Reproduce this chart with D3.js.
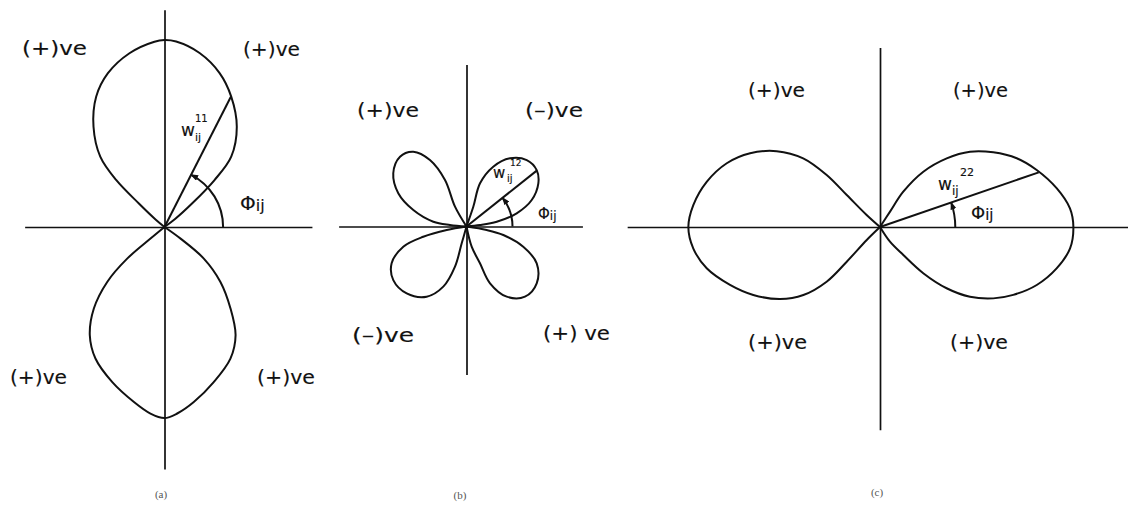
<!DOCTYPE html>
<html>
<head>
<meta charset="utf-8">
<script src="https://cdn.jsdelivr.net/npm/d3@7"></script>
<style>
  html, body { margin: 0; padding: 0; background: #ffffff; }
  svg { display: block; }
  .curve { fill: none; stroke: #111; stroke-width: 2; stroke-linejoin: round; }
  .axis path.domain { stroke: #111; stroke-width: 1.7; }
  .lbl { font-family: "DejaVu Sans", sans-serif; fill: #111; stroke: #111; stroke-width: 0.15; }
  .cap { font-family: "Liberation Serif", "DejaVu Serif", serif; fill: #555; font-size: 11px; }
</style>
</head>
<body>
<svg id="chart" width="1128" height="506"></svg>
<script>
// Lobe outlines: [angle in degrees counter-clockwise from +x, radius relative to the lobe length]

// (a) weight w_ij^11 — vertical figure-eight
const lobeAUpper = [[37,0.07],[40.5,0.195],[43.2,0.363],[46.5,0.513],[54.2,0.654],[62.9,0.775],
  [70.3,0.865],[78.6,0.939],[86.4,0.983],[90,0.989],[93.1,0.982],[101.4,0.938],[110.2,0.867],
  [117.7,0.778],[125.3,0.650],[132.4,0.504],[135.8,0.357],[137.5,0.182],[140,0.06]];
const lobeALower = [[-35.9,0.105],[-38.8,0.267],[-44.5,0.415],[-51.0,0.555],[-56.7,0.685],[-63.4,0.779],
  [-72.4,0.861],[-80.5,0.939],[-86.1,0.989],[-90,1.011],[-94.3,0.990],[-99.9,0.940],[-108.6,0.866],
  [-117.7,0.786],[-124.6,0.696],[-130.9,0.571],[-136.2,0.420],[-139.7,0.259],[-140.4,0.096]];

// (b) weight w_ij^12 — four-leaf
const lobeBUpperRight = [[71.0,0.227],[72.6,0.492],[65.9,0.712],[57.5,0.879],[47.8,0.975],[38.8,0.979],
  [31.0,0.911],[22.1,0.765],[14.7,0.564],[9.0,0.333],[6.3,0.148]];
const lobeBUpperLeft = [[120.1,0.249],[114.8,0.557],[118.8,0.825],[125.4,0.998],[133.6,1.048],[144.0,0.984],
  [154.0,0.825],[162.8,0.605],[171.8,0.364],[174.8,0.180]];
const lobeBLowerLeft = [[190.0,0.218],[193.3,0.483],[197.7,0.721],[206.2,0.907],[216.2,0.986],[228.2,0.975],
  [240.4,0.877],[248.9,0.701],[254.0,0.454],[254.1,0.190]];
const lobeBLowerRight = [[284.4,0.226],[290.1,0.426],[292.5,0.668],[299.8,0.879],[309.8,0.993],[321.0,0.982],
  [332.3,0.862],[340.4,0.655],[347.0,0.411],[350.2,0.223]];

// (c) weight w_ij^22 — horizontal figure-eight
const lobeCRight = [[56.8,0.095],[56.6,0.219],[51.9,0.364],[45.8,0.496],[39.9,0.608],[33.4,0.703],
  [26.7,0.793],[20.0,0.864],[12.4,0.937],[5.6,0.989],[0,1.002],[-6.4,0.991],[-13.2,0.940],[-20.3,0.866],
  [-27.0,0.775],[-32.2,0.694],[-37.8,0.590],[-42.6,0.469],[-46.9,0.328],[-50.2,0.189],[-55.8,0.092]];
const lobeCLeft = [[138.1,0.093],[136.1,0.239],[135.7,0.386],[138.2,0.534],[143.7,0.664],[150.4,0.774],
  [157.4,0.860],[165.4,0.928],[173.3,0.974],[180,0.993],[186.5,0.974],[193.4,0.923],[201.1,0.833],
  [208.2,0.745],[215.8,0.638],[221.6,0.531],[225.7,0.396],[226.2,0.249],[224.3,0.096]];

// Sample direction phi_ij for each panel: [angle in degrees, weight radius, angle-arc radius]
const radialA = [63, 0.775, 0.31];
const radialB = [38.5, 0.98, 0.5];
const radialC = [19, 0.87, 0.39];

// Quadrant sign labels: [top-left, top-right, bottom-left, bottom-right]
const signsA = ["(+)ve", "(+)ve", "(+)ve", "(+)ve"];
const signsB = ["(+)ve", "(–)ve", "(–)ve", "(+) ve"];
const signsC = ["(+)ve", "(+)ve", "(+)ve", "(+)ve"];
const captions = ["(a)", "(b)", "(c)"];
const weightSup = ["11", "12", "22"];

// Panel layout
const panels = [
  { cx: 164.5, cy: 227, R: 189, xExt: [-0.74, 0.78], yExt: [-1.28, 1.15],
    lobes: [lobeAUpper, lobeALower], radial: radialA, signs: signsA, cap: captions[0], sup: weightSup[0],
    signPos: [[22,55,65],[243,56,57],[10,384,57],[257,384,58]], capPos: [161,498],
    w: { x: 181, y: 136, fs: 17, supX: 195, supY: 122, supFs: 10, subX: 195, subY: 141, subFs: 11 },
    phi: { x: 240, y: 210, fs: 20, subFs: 16 } },
  { cx: 466.5, cy: 226.5, R: 92, xExt: [-1.39, 1.26], yExt: [-1.61, 1.76],
    lobes: [lobeBUpperRight, lobeBUpperLeft, lobeBLowerLeft, lobeBLowerRight], radial: radialB,
    signs: signsB, cap: captions[1], sup: weightSup[1],
    signPos: [[357,117,62],[525,117,58],[352,342,62],[543,340,67]], capPos: [460,499],
    w: { x: 493, y: 178, fs: 15, supX: 510, supY: 166, supFs: 9, subX: 507, subY: 182, subFs: 10 },
    phi: { x: 538, y: 219, fs: 15, subFs: 12 } },
  { cx: 880, cy: 227, R: 193, xExt: [-1.31, 1.29], yExt: [-1.05, 0.93],
    lobes: [lobeCRight, lobeCLeft], radial: radialC, signs: signsC, cap: captions[2], sup: weightSup[2],
    signPos: [[748,97,57],[953,97,55],[748,349,59],[950,349,58]], capPos: [877,496],
    w: { x: 938, y: 190, fs: 17, supX: 960, supY: 176, supFs: 11, subX: 952, subY: 195, subFs: 12 },
    phi: { x: 971, y: 219, fs: 18, subFs: 15 } }
];

const svg = d3.select("#chart");
svg.append("rect").attr("width", 1128).attr("height", 506).attr("fill", "#ffffff");

// Arrowhead for the phi arcs
svg.append("defs").append("marker")
  .attr("id", "arrow").attr("markerUnits", "userSpaceOnUse")
  .attr("viewBox", "0 0 8 6").attr("markerWidth", 8).attr("markerHeight", 6)
  .attr("refX", 7).attr("refY", 3).attr("orient", "auto")
  .append("path").attr("d", "M0,0 L8,3 L0,6 Z").attr("fill", "#111");

const deg = Math.PI / 180;

panels.forEach(p => {
  const x = d3.scaleLinear().domain(p.xExt).range([p.cx + p.xExt[0] * p.R, p.cx + p.xExt[1] * p.R]);
  const y = d3.scaleLinear().domain(p.yExt).range([p.cy - p.yExt[0] * p.R, p.cy - p.yExt[1] * p.R]);
  const r = d3.scaleLinear().domain([0, 1]).range([0, p.R]);

  // Axes through the origin
  svg.append("g").attr("class", "axis")
    .attr("transform", `translate(0,${y(0)})`)
    .call(d3.axisBottom(x).tickValues([]).tickSizeOuter(0));
  svg.append("g").attr("class", "axis")
    .attr("transform", `translate(${x(0)},0)`)
    .call(d3.axisLeft(y).tickValues([]).tickSizeOuter(0));

  const g = svg.append("g").attr("transform", `translate(${x(0)},${y(0)})`);

  const radial = d3.lineRadial()
    .angle(d => Math.PI / 2 - d[0] * deg)
    .radius(d => r(d[1]))
    .curve(d3.curveCatmullRom.alpha(0.5));

  // Each lobe leaves the origin and returns to it
  p.lobes.forEach(lobe => {
    const pts = [[lobe[0][0], 0], ...lobe, [lobe[lobe.length - 1][0], 0]];
    g.append("path").attr("class", "curve").attr("d", radial(pts));
  });

  // Radial weight line at phi
  const [phiDeg, wr, arcR] = p.radial;
  g.append("path").attr("class", "curve")
    .attr("d", d3.lineRadial().angle(d => Math.PI / 2 - d[0] * deg).radius(d => r(d[1]))([[phiDeg, 0], [phiDeg, wr]]));

  // Angle arc from the horizontal axis up to the weight line
  const arc = d3.path();
  arc.arc(0, 0, r(arcR), 0, -phiDeg * deg, true);
  g.append("path").attr("class", "curve").attr("stroke-width", 1.6)
    .attr("d", arc.toString()).attr("marker-end", "url(#arrow)");

  // Quadrant sign labels
  p.signs.forEach((s, i) => {
    const [sx, sy, sw] = p.signPos[i];
    svg.append("text").attr("class", "lbl")
      .attr("x", sx).attr("y", sy).attr("font-size", 20)
      .attr("textLength", sw).attr("lengthAdjust", "spacingAndGlyphs")
      .text(s);
  });

  // Weight label w_ij^kl
  svg.append("text").attr("class", "lbl").attr("x", p.w.x).attr("y", p.w.y)
    .attr("font-size", p.w.fs).text("w");
  svg.append("text").attr("class", "lbl").attr("x", p.w.supX).attr("y", p.w.supY)
    .attr("font-size", p.w.supFs).attr("stroke-width", 0.3).text(p.sup);
  svg.append("text").attr("class", "lbl").attr("x", p.w.subX).attr("y", p.w.subY)
    .attr("font-size", p.w.subFs).attr("stroke-width", 0.3).text("ij");

  // Angle label phi_ij
  const ph = svg.append("text").attr("class", "lbl").attr("x", p.phi.x).attr("y", p.phi.y)
    .attr("font-size", p.phi.fs);
  ph.append("tspan").text("Φ");
  ph.append("tspan").attr("font-size", p.phi.subFs).attr("dy", 1).text("ij");

  // Sub-figure caption
  svg.append("text").attr("class", "cap").attr("x", p.capPos[0]).attr("y", p.capPos[1])
    .attr("text-anchor", "middle").text(p.cap);
});
</script>
</body>
</html>
